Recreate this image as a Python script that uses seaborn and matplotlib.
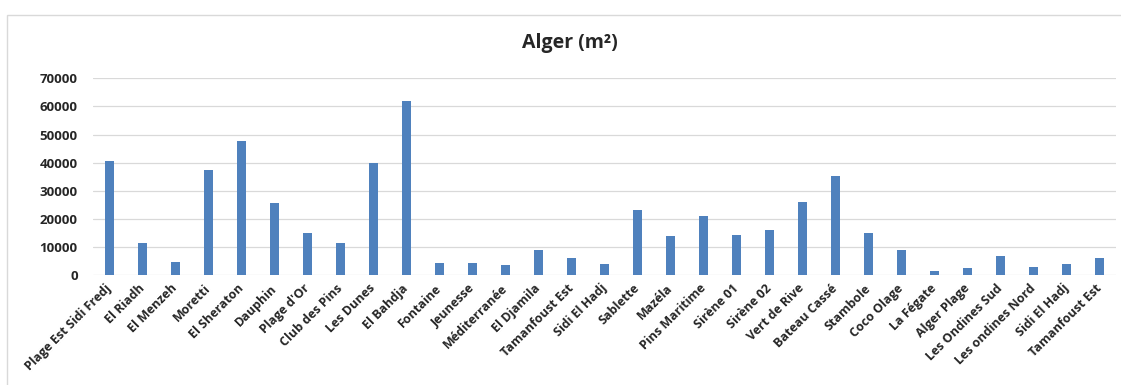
import matplotlib
matplotlib.use('Agg')
import matplotlib.pyplot as plt
import seaborn as sns
import pandas as pd
from matplotlib.patches import Rectangle

# Beach surface areas, Alger (m²)
sites = ["Plage Est Sidi Fredj", "El Riadh", "El Menzeh", "Moretti", "El Sheraton",
         "Dauphin", "Plage d'Or", "Club des Pins", "Les Dunes", "El Bahdja",
         "Fontaine", "Jeunesse", "Méditerranée", "El Djamila", "Tamanfoust Est",
         "Sidi El Hadj", "Sablette", "Mazéla", "Pins Maritime", "Sirène 01",
         "Sirène 02", "Vert de Rive", "Bateau Cassé", "Stambole", "Coco Olage",
         "La Fégate", "Alger Plage", "Les Ondines Sud", "Les ondines Nord",
         "Sidi El Hadj", "Tamanfoust Est"]
area = [40600, 11500, 4800, 37400, 47700, 25700, 15000, 11500, 39800, 61800,
        4200, 4400, 3600, 9000, 6000, 4000, 23100, 14000, 21100, 14300,
        16100, 26100, 35200, 15200, 9000, 1400, 2500, 6900, 2800, 4000, 6000]
yticks = [0, 10000, 20000, 30000, 40000, 50000, 60000, 70000]

sns.set_style('white')
plt.rcParams['font.family'] = ['Open Sans', 'DejaVu Sans']
plt.rcParams['font.weight'] = 'bold'

# site names repeat, so bars are placed by index
df = pd.DataFrame({'pos': range(len(sites)), 'area': area})

fig = plt.figure(figsize=(11.21, 3.85), dpi=100)
ax = fig.add_axes([0.083, 0.285, 0.9125, 0.5115])

sns.barplot(data=df, x='pos', y='area', color='#4f81bd', saturation=1,
            width=0.3, linewidth=0, ax=ax)

ax.set_ylim(0, 70000)
ax.set_yticks(yticks)
ax.set_yticklabels([str(v) for v in yticks], fontsize=9.5, fontweight='bold')
ax.set_xticks(range(len(sites)))
ax.set_xticklabels(sites, rotation=45, ha='right', va='center',
                   rotation_mode='anchor', fontsize=9, fontweight='bold')
ax.tick_params(axis='both', length=0)
ax.tick_params(axis='y', pad=11)
ax.tick_params(axis='x', pad=8)
ax.set_xlabel('')
ax.set_ylabel('')
ax.grid(axis='y', color='#d9d9d9', linewidth=0.9)
ax.set_axisbelow(True)
for s in ax.spines.values():
    s.set_visible(False)

fig.text(570 / 1121, 1 - 43 / 385, 'Alger (m²)', ha='center', va='center',
         fontsize=14, fontweight='bold')

# light chart border, like the spreadsheet chart frame
fig.patches.append(Rectangle((7 / 1121, -0.1), 1.2, 1 - 15 / 385 + 0.1,
                             transform=fig.transFigure, fill=False,
                             edgecolor='#d9d9d9', linewidth=1))

fig.savefig('out.png', dpi=100)
